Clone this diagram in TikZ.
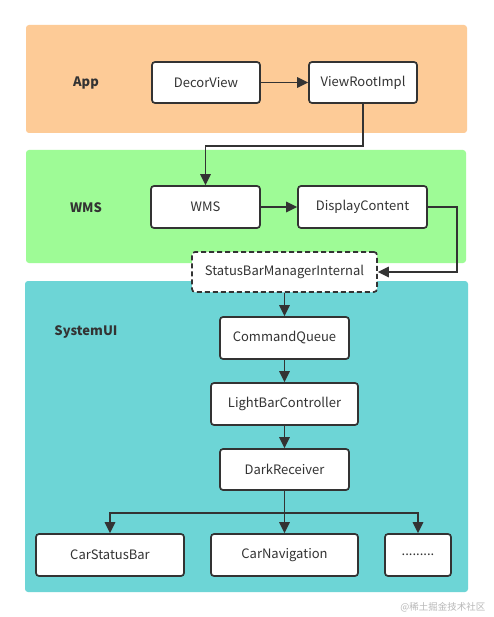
\documentclass[tikz,border=0pt]{standalone}
\usepackage{fontspec}
\setmainfont{Noto Sans CJK SC}
\usetikzlibrary{arrows.meta,positioning}
\definecolor{apppanel}{HTML}{FDCB97}
\definecolor{wmspanel}{HTML}{9EFB96}
\definecolor{syspanel}{HTML}{6DD5D6}
\definecolor{ink}{HTML}{333333}
\tikzset{
  panel/.style={rounded corners=3pt, draw=none},
  box/.style={draw=ink, line width=1.7pt, fill=white, rounded corners=3pt, text=ink, font=\fontsize{13}{15}\selectfont, inner sep=0pt},
  dbox/.style={box, dashed, dash pattern=on 5pt off 3pt},
  plabel/.style={text=ink, font=\fontsize{13}{15}\selectfont\bfseries},
  conn/.style={draw=ink, line width=1.7pt, -{Triangle[length=11pt,width=10.5pt]}},
}
\begin{document}
\begin{tikzpicture}[x=1pt,y=-1pt]
\useasboundingbox (0,0) rectangle (493,617);
\fill[white] (0,0) rectangle (493,617);
% panels
\fill[apppanel, rounded corners=3pt] (26,25) rectangle (467,133);
\fill[wmspanel, rounded corners=3pt] (26,150) rectangle (466,263);
\fill[syspanel, rounded corners=3pt] (25,281) rectangle (468,592);
% panel labels
\node[plabel] (lapp) at (86,83.5) {App};
\node[plabel] (lwms) at (86,207.5) {WMS};
\node[plabel] (lsys) at (86,331.5) {SystemUI};
% boxes
\node[box, minimum width=108pt, minimum height=41pt] (decor) at (206,82.5) {\raisebox{-0.5pt}{DecorView}};
\node[box, minimum width=108pt, minimum height=41pt] (vri) at (363,82.5) {\raisebox{-0.5pt}{ViewRootImpl}};
\node[box, minimum width=109pt, minimum height=42pt] (wms) at (205.5,207) {\raisebox{-0.5pt}{WMS}};
\node[box, minimum width=129pt, minimum height=42pt] (dc) at (362.5,207) {\raisebox{-0.5pt}{DisplayContent}};
\node[dbox, minimum width=185pt, minimum height=40pt] (sbmi) at (284.5,272) {\raisebox{-0.5pt}{StatusBarManagerInternal}};
\node[box, minimum width=129pt, minimum height=42pt] (cq) at (284.5,338) {\raisebox{-0.5pt}{CommandQueue}};
\node[box, minimum width=147pt, minimum height=42pt] (lbc) at (284.5,404) {\raisebox{-0.5pt}{LightBarController}};
\node[box, minimum width=129pt, minimum height=41pt] (dr) at (284.5,469.5) {\raisebox{-0.5pt}{DarkReceiver}};
\node[box, minimum width=148pt, minimum height=42pt] (csb) at (110,555) {\raisebox{-0.5pt}{CarStatusBar}};
\node[box, minimum width=147pt, minimum height=42pt] (cn) at (284.5,555) {\raisebox{-0.5pt}{CarNavigation}};
\node[box, minimum width=66pt, minimum height=42pt] (more) at (418,555) {\raisebox{1pt}{.........}};
% connectors
\draw[conn] (decor) -- (vri);
\draw[conn] (vri.south) |- (205.5,146) -- (wms.north);
\draw[conn] (wms) -- (dc);
\draw[conn] (dc.east) -- (457,207) |- (sbmi.east);
\draw[conn] (sbmi) -- (cq);
\draw[conn] (cq) -- (lbc);
\draw[conn] (lbc) -- (dr);
\draw[conn] (dr) -- (cn);
\coordinate (split) at (284.5,513);
\draw[conn] (split) -| (csb.north);
\draw[conn] (split) -| (more.north);
% watermark
\node[text=black!28, font=\fontsize{9.5}{11}\selectfont, anchor=east] (wm) at (489,607) {@稀土掘金技术社区};
\end{tikzpicture}
\end{document}
